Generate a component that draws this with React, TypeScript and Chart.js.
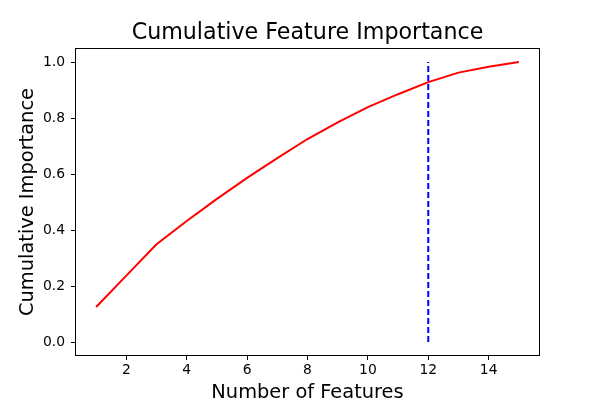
import React, { useEffect, useRef } from "react";
import { Chart, registerables } from "chart.js";

Chart.register(...registerables);

const featureCounts = [1, 2, 3, 4, 5, 6, 7, 8, 9, 10, 11, 12, 13, 14, 15];
const cumulativeImportance = [0.125, 0.237, 0.349, 0.432, 0.511, 0.586, 0.657, 0.725, 0.784, 0.839, 0.885, 0.928, 0.962, 0.983, 1.0];
const thresholdX = [12, 12];
const thresholdY = [0, 1];
const xTicks = [2, 4, 6, 8, 10, 12, 14];
const yTicks = [0, 0.2, 0.4, 0.6, 0.8, 1.0];

const FONT = "'DejaVu Sans', sans-serif";

const decorPlugin = {
  id: "decor",
  afterDraw(chart: any) {
    const { ctx, chartArea } = chart;
    const { left, right, top, bottom } = chartArea;
    ctx.save();
    ctx.strokeStyle = "#000";
    ctx.lineWidth = 1;
    ctx.strokeRect(Math.round(left) + 0.5, Math.round(top) + 0.5, Math.round(right - left) - 1, Math.round(bottom - top) - 1);
    ctx.fillStyle = "#000";
    ctx.textAlign = "center";
    ctx.textBaseline = "middle";
    const cx = (left + right) / 2;
    ctx.font = `22.2px ${FONT}`;
    ctx.fillText("Cumulative Feature Importance", cx, 33);
    ctx.font = `19.4px ${FONT}`;
    ctx.fillText("Number of Features", cx, 393);
    ctx.translate(28, (top + bottom) / 2);
    ctx.rotate(-Math.PI / 2);
    ctx.fillText("Cumulative Importance", 0, 0);
    ctx.restore();
  },
};

export default function App() {
  const ref = useRef<HTMLCanvasElement>(null);
  useEffect(() => {
    if (!ref.current) return;
    const chart = new Chart(ref.current, {
      type: "line",
      data: {
        datasets: [
          {
            data: featureCounts.map((x, i) => ({ x, y: cumulativeImportance[i] })),
            borderColor: "#ff0000",
            borderWidth: 2,
            pointRadius: 0,
            tension: 0,
          },
          {
            data: thresholdX.map((x, i) => ({ x, y: thresholdY[i] })),
            borderColor: "#0000ff",
            borderWidth: 2,
            borderDash: [6, 3],
            pointRadius: 0,
          },
        ],
      },
      options: {
        animation: false,
        responsive: false,
        devicePixelRatio: 1,
        layout: { padding: { top: 48, right: 60, left: 0, bottom: 0 } },
        plugins: { legend: { display: false }, tooltip: { enabled: false }, title: { display: false } },
        scales: {
          x: {
            type: "linear",
            min: 0.3,
            max: 15.7,
            afterFit(scale: any) { scale.height = 44; },
            afterBuildTicks(scale: any) { scale.ticks = xTicks.map((v) => ({ value: v })); },
            grid: { drawOnChartArea: false, drawTicks: true, tickLength: 4, color: "#000", tickColor: "#000" },
            border: { display: false },
            ticks: { color: "#000", font: { family: FONT, size: 13.9 }, padding: 2, maxRotation: 0, autoSkip: false, callback: (v: any) => String(v) },
          },
          y: {
            type: "linear",
            min: -0.05,
            max: 1.05,
            afterFit(scale: any) { scale.width = 75; },
            afterBuildTicks(scale: any) { scale.ticks = yTicks.map((v) => ({ value: v })); },
            grid: { drawOnChartArea: false, drawTicks: true, tickLength: 4, color: "#000", tickColor: "#000" },
            border: { display: false },
            ticks: { color: "#000", font: { family: FONT, size: 13.9 }, padding: 6, autoSkip: false, callback: (v: any) => Number(v).toFixed(1) },
          },
        },
      },
      plugins: [decorPlugin],
    });
    return () => chart.destroy();
  }, []);
  return (
    <div style={{ position: "absolute", left: 0, top: 0, width: 600, height: 400, background: "#fff" }}>
      <canvas ref={ref} width={600} height={400} style={{ width: 600, height: 400 }} />
    </div>
  );
}
